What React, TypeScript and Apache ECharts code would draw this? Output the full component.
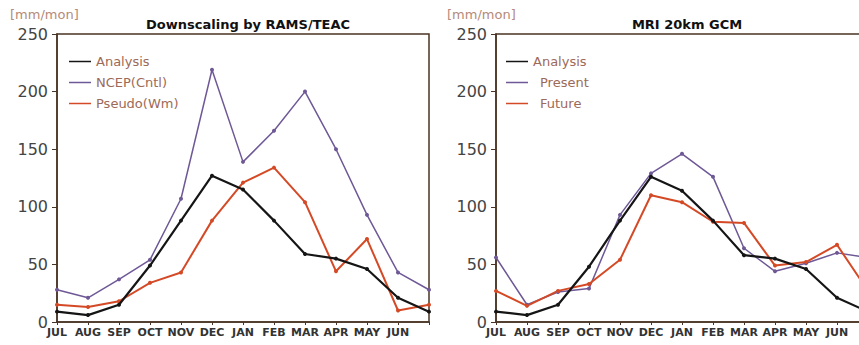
import React, { useEffect, useRef } from "react";
import * as echarts from "echarts";

const months = ["JUL", "AUG", "SEP", "OCT", "NOV", "DEC", "JAN", "FEB", "MAR", "APR", "MAY", "JUN", "JUL"];
const yTicks = [0, 50, 100, 150, 200, 250];

// Left panel: Downscaling by RAMS/TEAC
const leftAnalysis = [9, 6, 15, 49, 88, 127, 115, 88, 59, 55, 46, 21, 9];
const leftNcep = [28, 21, 37, 54, 107, 219, 139, 166, 200, 150, 93, 43, 28];
const leftPseudo = [15, 13, 18, 34, 43, 88, 121, 134, 104, 44, 72, 10, 15];

// Right panel: MRI 20km GCM
const rightAnalysis = [9, 6, 15, 48, 88, 126, 114, 88, 58, 55, 46, 21, 9];
const rightPresent = [56, 15, 26, 29, 93, 129, 146, 126, 64, 44, 51, 60, 56];
const rightFuture = [27, 14, 27, 33, 54, 110, 104, 87, 86, 49, 52, 67, 27];

const titles = ["Downscaling by RAMS/TEAC", "MRI 20km GCM"];
const unitLabel = "[mm/mon]";

const FONT = "DejaVu Sans";
const AXIS = "#4a3425";
const BLACK = "#151515";
const PURPLE = "#6e5896";
const ORANGE = "#d44a26";
const LEGEND_TEXT = "#9c6a58";

export default function App() {
  const ref = useRef<HTMLDivElement>(null);
  useEffect(() => {
    if (!ref.current) return;
    const chart = echarts.init(ref.current, null, { renderer: "svg" });
    const grids = [
      { left: 57, top: 34, width: 372, height: 288 },
      { left: 496, top: 34, width: 372, height: 288 },
    ];
    const xAxis = grids.map((_, i) => ({
      type: "category",
      gridIndex: i,
      data: months,
      boundaryGap: false,
      axisLine: { lineStyle: { color: AXIS, width: 1.5 } },
      axisTick: { show: true, length: 3, inside: false, lineStyle: { color: AXIS } },
      axisLabel: {
        interval: 0,
        margin: 5,
        fontFamily: FONT,
        fontSize: 11,
        fontWeight: "bold",
        color: "#333",
        formatter: (v: string, idx: number) => (idx === months.length - 1 ? "" : v),
      },
      splitLine: { show: false },
    }));
    const yAxis = grids.map((_, i) => ({
      type: "value",
      gridIndex: i,
      min: yTicks[0],
      max: yTicks[yTicks.length - 1],
      interval: 50,
      axisLine: { show: true, lineStyle: { color: AXIS, width: 1.5 } },
      axisTick: { show: true, length: 5, inside: false, lineStyle: { color: AXIS } },
      axisLabel: { margin: 9, fontFamily: FONT, fontSize: 16, color: "#444" },
      splitLine: { show: false },
    }));
    const mk = (name: string, data: number[], color: string, width: number, idx: number) => ({
      type: "line",
      name,
      data,
      xAxisIndex: idx,
      yAxisIndex: idx,
      symbol: "circle",
      symbolSize: 4,
      lineStyle: { color, width },
      itemStyle: { color },
      z: name === "Analysis" ? 5 : 3,
    });
    const legendCommon = {
      orient: "vertical",
      top: 50,
      itemWidth: 22,
      itemHeight: 1.5,
      itemGap: 8,
      icon: "rect",
      textStyle: { fontFamily: FONT, fontSize: 13, color: LEGEND_TEXT },
    };
    chart.setOption({
      animation: false,
      backgroundColor: "#ffffff",
      title: [
        {
          text: titles[0],
          left: 243,
          top: 13,
          textAlign: "center",
          textStyle: { fontFamily: FONT, fontSize: 13, fontWeight: "bold", color: "#111" },
        },
        {
          text: titles[1],
          left: 682,
          top: 13,
          textAlign: "center",
          textStyle: { fontFamily: FONT, fontSize: 13, fontWeight: "bold", color: "#111" },
        },
      ],
      legend: [
        { ...legendCommon, left: 64, data: ["Analysis", "NCEP(Cntl)", "Pseudo(Wm)"] },
        {
          ...legendCommon,
          left: 501,
          data: [
            "Analysis",
            { name: "Present", textStyle: { padding: [0, 0, 0, 7] } },
            { name: "Future", textStyle: { padding: [0, 0, 0, 7] } },
          ],
        },
      ],
      grid: grids.map((g) => ({ ...g, show: true, borderColor: AXIS, borderWidth: 1.5, backgroundColor: "transparent" })),
      xAxis,
      yAxis,
      series: [
        mk("NCEP(Cntl)", leftNcep, PURPLE, 1.5, 0),
        mk("Pseudo(Wm)", leftPseudo, ORANGE, 2, 0),
        mk("Analysis", leftAnalysis, BLACK, 2.2, 0),
        mk("Present", rightPresent, PURPLE, 1.5, 1),
        mk("Future", rightFuture, ORANGE, 2, 1),
        mk("Analysis", rightAnalysis, BLACK, 2.2, 1),
      ],
      graphic: [
        { type: "text", left: 10, top: 8, style: { text: unitLabel, fontFamily: FONT, fontSize: 13, fill: "#b48a78" } },
        { type: "text", left: 447, top: 8, style: { text: unitLabel, fontFamily: FONT, fontSize: 13, fill: "#b48a78" } },
      ],
    });
    return () => chart.dispose();
  }, []);
  return (
    <div style={{ position: "fixed", left: 0, top: 0, width: 859, height: 345, overflow: "hidden" }}>
      <div ref={ref} style={{ width: 880, height: 345 }} />
    </div>
  );
}
